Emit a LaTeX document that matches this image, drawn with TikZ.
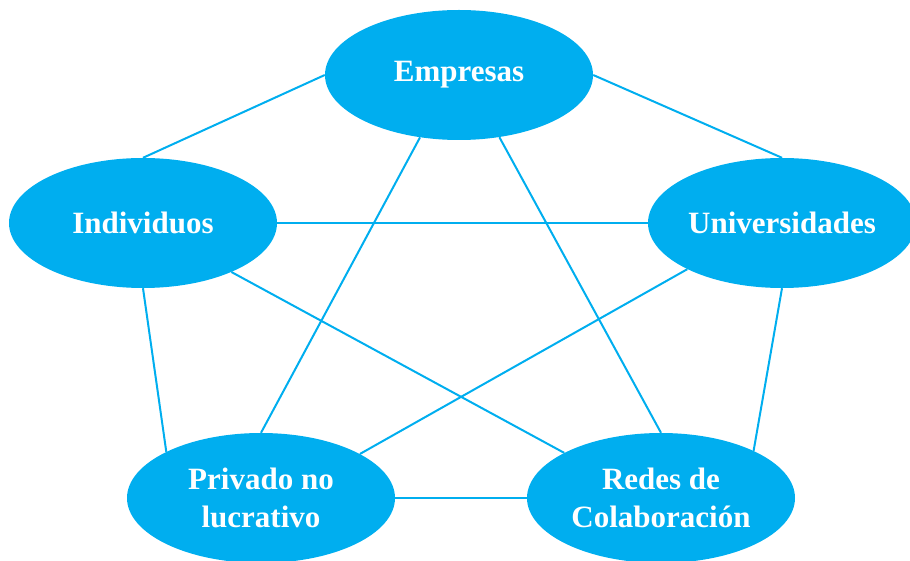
\documentclass[tikz,border=0pt]{standalone}
\usepackage{fontspec}
\setmainfont{Liberation Serif}
\usepackage{xcolor}
\usepackage{tikz}
\usetikzlibrary{shapes.geometric}
\definecolor{cyanblue}{HTML}{00AEEF}

\begin{document}
\begin{tikzpicture}[
    x=1pt, y=-1pt,
    actor/.style={ellipse, fill=cyanblue, minimum width=268pt, minimum height=130pt, inner sep=0pt, text=white, align=center, font=\fontsize{31}{38}\selectfont\bfseries},
    link/.style={draw=cyanblue, line width=2pt}
]
    \useasboundingbox (0,0) rectangle (910,561);

    \node[actor] (emp) at (459,75) {Empresas};
    \node[actor] (ind) at (143,223) {Individuos};
    \node[actor] (uni) at (782,223) {Universidades};
    \node[actor] (priv) at (261,498) {Privado no\\lucrativo};
    \node[actor] (redes) at (661,498) {Redes de\\Colaboración};

    % outer ring
    \draw[link] (emp.west) -- (ind.north);
    \draw[link] (emp.east) -- (uni.north);
    \draw[link] (ind.south) -- (priv.154);
    \draw[link] (uni.south) -- (redes.27);
    \draw[link] (priv.east) -- (redes.west);

    % inner star
    \draw[link] (ind.east) -- (uni.west);
    \draw[link] (emp.238) -- (priv.north);
    \draw[link] (emp.303) -- (redes.north);
    \draw[link] (ind.331) -- (redes.155);
    \draw[link] (uni.206) -- (priv.24);
\end{tikzpicture}
\end{document}
